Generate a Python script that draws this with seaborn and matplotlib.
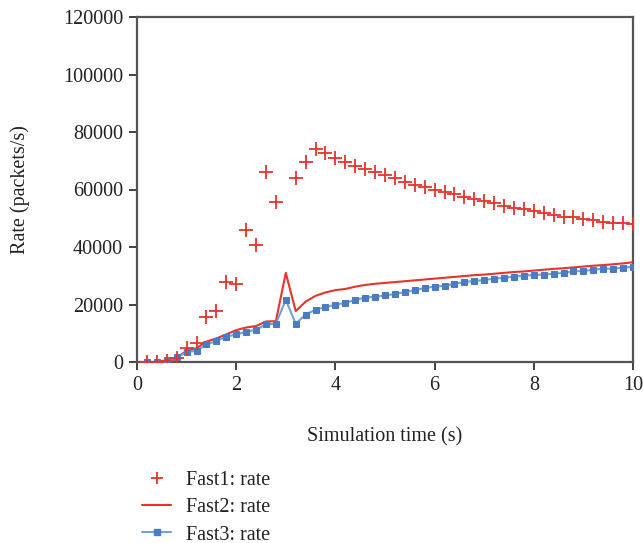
import numpy as np
import pandas as pd
import matplotlib
matplotlib.use("Agg")
import matplotlib.pyplot as plt
import seaborn as sns
from matplotlib.lines import Line2D

# Simulation time samples (s)
time_s = [0.2, 0.4, 0.6, 0.8, 1.0, 1.2, 1.4, 1.6, 1.8, 2.0,
          2.2, 2.4, 2.6, 2.8, 3.0, 3.2, 3.4, 3.6, 3.8, 4.0,
          4.2, 4.4, 4.6, 4.8, 5.0, 5.2, 5.4, 5.6, 5.8, 6.0,
          6.2, 6.4, 6.6, 6.8, 7.0, 7.2, 7.4, 7.6, 7.8, 8.0,
          8.2, 8.4, 8.6, 8.8, 9.0, 9.2, 9.4, 9.6, 9.8, 10.0]

# Rate of each flow (packets/s)
fast1_rate = [0, 0, 300, 1300, 4800, 6500, 15800, 17700, 27800, 27100,
              46000, 40600, 66000, 55600, np.nan, 64100, 69700, 74100, 72600, 70900,
              69500, 68200, 67000, 66200, 65000, 63900, 62500, 61600, 61000, 59800,
              59000, 58300, 57300, 56700, 56100, 55400, 54400, 53500, 53100, 52500,
              51700, 51100, 50500, 50300, 49600, 49400, 48800, 48500, 48200, 47900]

fast2_rate = [0, 0, 300, 1500, 3900, 4800, 7100, 8200, 9600, 11100,
              12000, 12500, 14100, 14200, 31000, 17700, 21000, 23000, 24200, 25000,
              25400, 26200, 26800, 27200, 27500, 27800, 28100, 28400, 28700, 29000,
              29300, 29600, 29900, 30200, 30400, 30700, 31000, 31300, 31500, 31800,
              32100, 32400, 32600, 32900, 33200, 33500, 33700, 34000, 34300, 34700]

fast3_rate = [0, 0, 700, 1600, 3400, 3900, 6100, 7300, 8800, 9600,
              10500, 11200, 13100, 13300, 21600, 13300, 16500, 18200, 19100, 19900,
              20600, 21600, 22400, 22700, 23150, 23650, 24350, 25000, 25700, 26200,
              26500, 27200, 27800, 28200, 28500, 29000, 29300, 29700, 30000, 30300,
              30400, 30700, 31000, 31550, 31650, 32100, 32450, 32450, 32800, 33150]

series_labels = ["Fast1: rate", "Fast2: rate", "Fast3: rate"]
x_ticks = [0, 2, 4, 6, 8, 10]
y_ticks = [0, 20000, 40000, 60000, 80000, 100000, 120000]

df = pd.DataFrame({"time": time_s, "fast1": fast1_rate,
                   "fast2": fast2_rate, "fast3": fast3_rate})

sns.set_theme(style="white")
plt.rcParams["font.family"] = ["Liberation Serif", "DejaVu Serif"]

RED = "#e8332b"
BLUE_LINE = "#73a0da"
BLUE_MARK = "#4a7cc2"
SPINE = "#555555"

fig = plt.figure(figsize=(6.43, 5.43), dpi=100)
ax = fig.add_axes([137 / 643, 1 - 362 / 543, (633 - 137) / 643, (362 - 17) / 543])

sns.scatterplot(data=df, x="time", y="fast1", ax=ax, marker="+", s=100,
                color=RED, linewidth=1.3, legend=False, zorder=4)
sns.lineplot(data=df, x="time", y="fast2", ax=ax, color=RED,
             linewidth=1.5, legend=False, zorder=3)
sns.lineplot(data=df, x="time", y="fast3", ax=ax, color=BLUE_LINE,
             linewidth=1.5, marker="s", markersize=5, markerfacecolor=BLUE_MARK,
             markeredgecolor=BLUE_MARK, legend=False, zorder=3)

ax.set_xlim(0, 10)
ax.set_ylim(0, 120000)
ax.set_xticks(x_ticks)
ax.set_yticks(y_ticks)
ax.set_xticklabels([str(v) for v in x_ticks])
ax.set_yticklabels([str(v) for v in y_ticks])
ax.tick_params(axis="both", which="major", direction="out", length=6,
               width=1.2, color="#222222", labelsize=14.5, labelcolor="#222222",
               bottom=True, left=True, pad=4)
for sp in ax.spines.values():
    sp.set_visible(True)
    sp.set_color(SPINE)
    sp.set_linewidth(1.6)

ax.set_xlabel("Simulation time (s)", fontsize=14.5, color="#222222", labelpad=23)
ax.set_ylabel("Rate (packets/s)", fontsize=14.5, color="#222222", labelpad=24)

handles = [
    Line2D([], [], linestyle="none", marker="+", markersize=9,
           markeredgewidth=1.3, color=RED),
    Line2D([], [], color=RED, linewidth=1.5),
    Line2D([], [], color=BLUE_LINE, linewidth=1.5, marker="s", markersize=4,
           markerfacecolor=BLUE_MARK, markeredgecolor=BLUE_MARK),
]
fig.legend(handles, series_labels, loc="upper left",
           bbox_to_anchor=(128 / 643, 1 - 457 / 543), frameon=False,
           fontsize=14.5, handlelength=1.45, handletextpad=0.75,
           labelspacing=0.4, borderpad=0.2, labelcolor="#222222")

fig.savefig("out.png", dpi=100)
